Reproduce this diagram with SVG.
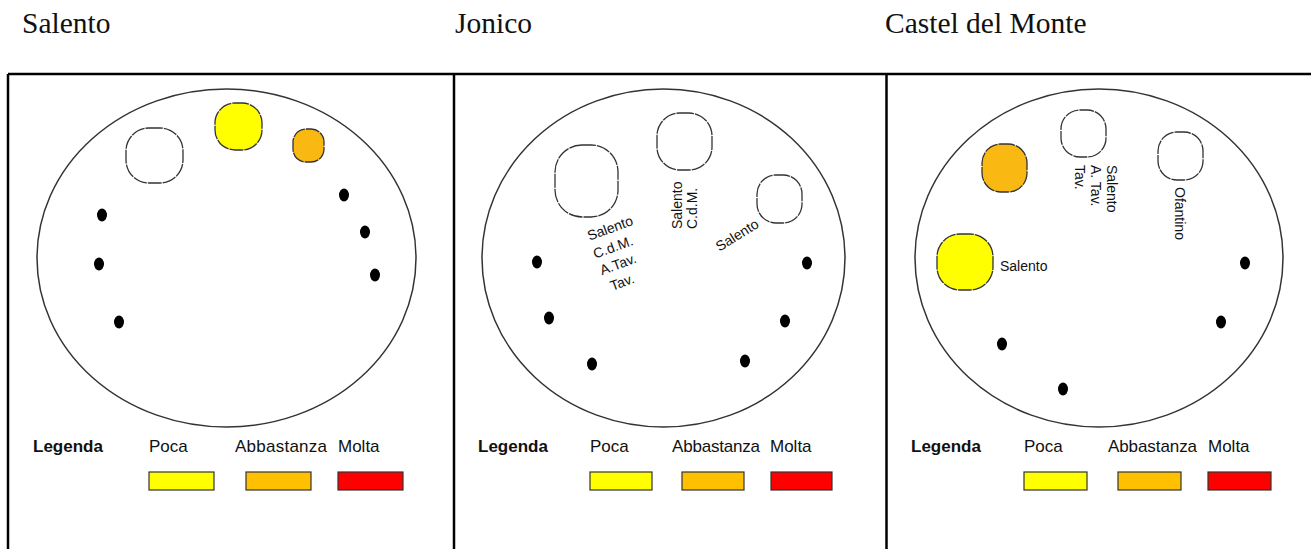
<svg xmlns="http://www.w3.org/2000/svg" width="1311" height="549" viewBox="0 0 1311 549">
<style>
.title{font-family:"Liberation Serif","Times New Roman",serif;font-size:29.5px;fill:#111}
.frame{stroke:#000;stroke-width:2.5;fill:none}
.oval{fill:#fff;stroke:#333;stroke-width:1.5}
.c{stroke:#333;stroke-width:1.3;stroke-dasharray:14 1}
.w{fill:#fff}
.y{fill:#ffff00}
.o{fill:#f9b912}
.dot{fill:#000}
.lab{font-family:"Liberation Sans",Arial,sans-serif;font-size:14px;fill:#111}
.leg{font-family:"Liberation Sans",Arial,sans-serif;font-size:17px;fill:#111}
.legb{font-family:"Liberation Sans",Arial,sans-serif;font-size:17px;font-weight:bold;fill:#111}
.sw{stroke:#333;stroke-width:1.2}
</style>
<rect width="1311" height="549" fill="#fff"/>
<g id="titles">
<text class="title" x="22" y="33">Salento</text>
<text class="title" x="455" y="33">Jonico</text>
<text class="title" x="885" y="33">Castel del Monte</text>
</g>
<g id="frames">
<line class="frame" x1="8" y1="74" x2="1311" y2="74"/>
<line class="frame" x1="8" y1="74" x2="8" y2="549"/>
<line class="frame" x1="454" y1="74" x2="454" y2="549"/>
<line class="frame" x1="886.5" y1="74" x2="886.5" y2="549"/>
</g>
<g id="connectors"></g>

<g id="panel-salento">
<ellipse class="oval" cx="226.5" cy="258" rx="189.5" ry="169"/>
<rect class="c w" x="126" y="128" width="57" height="55" rx="23"/>
<rect class="c y" x="215" y="103" width="47" height="47" rx="20"/>
<rect class="c o" x="293" y="129" width="31" height="33" rx="13"/>
<ellipse class="dot" cx="344" cy="195" rx="5" ry="6.5"/>
<ellipse class="dot" cx="365" cy="232" rx="5" ry="6.5"/>
<ellipse class="dot" cx="375" cy="275" rx="5" ry="6.5"/>
<ellipse class="dot" cx="102" cy="215" rx="5" ry="6.5"/>
<ellipse class="dot" cx="99" cy="264" rx="5" ry="6.5"/>
<ellipse class="dot" cx="119" cy="322" rx="5" ry="6.5"/>
<g id="legend-1">
<text class="legb" x="33" y="452">Legenda</text>
<text class="leg" x="149" y="452">Poca</text>
<text class="leg" x="235" y="452" textLength="92">Abbastanza</text>
<text class="leg" x="338" y="452">Molta</text>
<rect class="sw" x="149" y="472" width="65" height="18" fill="#ffff00"/>
<rect class="sw" x="246" y="472" width="65" height="18" fill="#ffc000"/>
<rect class="sw" x="338" y="472" width="65" height="18" fill="#ff0000"/>
</g>
</g>

<g id="panel-jonico">
<ellipse class="oval" cx="663.5" cy="258" rx="181.5" ry="169"/>
<rect class="c w" x="555" y="145" width="63" height="72" rx="27"/>
<rect class="c w" x="657" y="113" width="55" height="57" rx="23"/>
<rect class="c w" x="757" y="175" width="45" height="48" rx="19"/>
<ellipse class="dot" cx="537" cy="262" rx="5" ry="6.5"/>
<ellipse class="dot" cx="549" cy="318" rx="5" ry="6.5"/>
<ellipse class="dot" cx="592" cy="364" rx="5" ry="6.5"/>
<ellipse class="dot" cx="807" cy="263" rx="5" ry="6.5"/>
<ellipse class="dot" cx="785" cy="321" rx="5" ry="6.5"/>
<ellipse class="dot" cx="745" cy="361" rx="5" ry="6.5"/>
<g id="labels-2">
<text class="lab" text-anchor="middle" transform="translate(610,228) rotate(-20)" y="5">Salento</text>
<text class="lab" text-anchor="middle" transform="translate(613,247) rotate(-20)" y="5">C.d.M.</text>
<text class="lab" text-anchor="middle" transform="translate(618,264) rotate(-20)" y="5">A.Tav.</text>
<text class="lab" text-anchor="middle" transform="translate(622,282) rotate(-20)" y="5">Tav.</text>
<text class="lab" transform="translate(682,229) rotate(-90)">Salento</text>
<text class="lab" transform="translate(697,229) rotate(-90)">C.d.M.</text>
<text class="lab" text-anchor="middle" transform="translate(737,235) rotate(-32)" y="5">Salento</text>
</g>
<g id="legend-2">
<text class="legb" x="478" y="452">Legenda</text>
<text class="leg" x="590" y="452">Poca</text>
<text class="leg" x="672" y="452" textLength="88">Abbastanza</text>
<text class="leg" x="770" y="452">Molta</text>
<rect class="sw" x="590" y="472" width="62" height="18" fill="#ffff00"/>
<rect class="sw" x="682" y="472" width="62" height="18" fill="#ffc000"/>
<rect class="sw" x="771" y="472" width="61" height="18" fill="#ff0000"/>
</g>
</g>

<g id="panel-castel">
<ellipse class="oval" cx="1099" cy="258" rx="184" ry="169"/>
<rect class="c o" x="982" y="144" width="45" height="48" rx="19"/>
<rect class="c w" x="1061" y="110" width="45" height="47" rx="19"/>
<rect class="c w" x="1158" y="132" width="45" height="48" rx="19"/>
<rect class="c y" x="937" y="234" width="56" height="56" rx="23"/>
<ellipse class="dot" cx="1245" cy="263" rx="5" ry="6.5"/>
<ellipse class="dot" cx="1221" cy="322" rx="5" ry="6.5"/>
<ellipse class="dot" cx="1002" cy="344" rx="5" ry="6.5"/>
<ellipse class="dot" cx="1063" cy="389" rx="5" ry="6.5"/>
<g id="labels-3">
<text class="lab" transform="translate(1107,165) rotate(90)">Salento</text>
<text class="lab" transform="translate(1091,165) rotate(90)">A. Tav.</text>
<text class="lab" transform="translate(1075,165) rotate(90)">Tav.</text>
<text class="lab" transform="translate(1175,187) rotate(90)">Ofantino</text>
<text class="lab" x="1000" y="271">Salento</text>
</g>
<g id="legend-3">
<text class="legb" x="911" y="452">Legenda</text>
<text class="leg" x="1024" y="452">Poca</text>
<text class="leg" x="1108" y="452" textLength="89">Abbastanza</text>
<text class="leg" x="1208" y="452">Molta</text>
<rect class="sw" x="1024" y="472" width="63" height="18" fill="#ffff00"/>
<rect class="sw" x="1118" y="472" width="63" height="18" fill="#ffc000"/>
<rect class="sw" x="1208" y="472" width="63" height="18" fill="#ff0000"/>
</g>
</g>
</svg>
